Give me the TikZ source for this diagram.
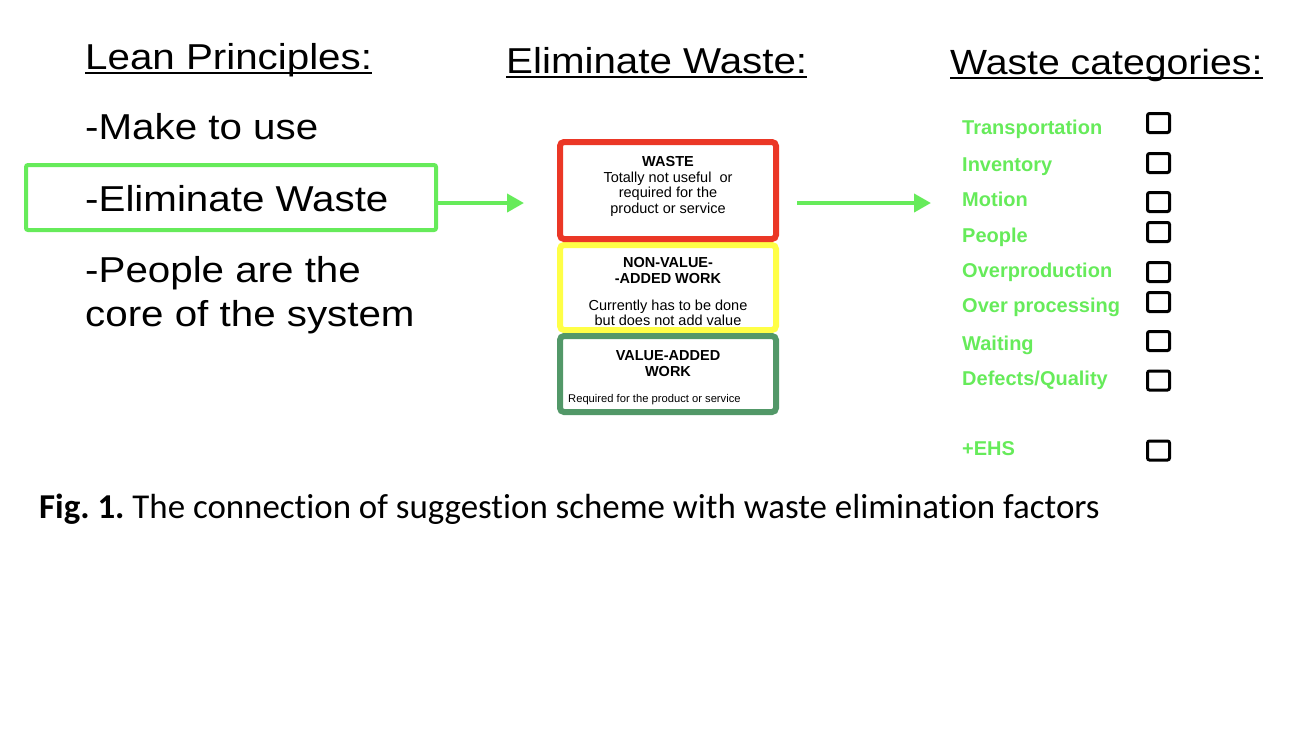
\documentclass[tikz,border=0pt]{standalone}
\usepackage{fontspec}
\setmainfont{Liberation Sans}
\newfontfamily\hfont[FakeStretch=1.12]{Liberation Sans}
\newfontfamily\capfont[Ligatures=NoCommon]{Carlito}
\usetikzlibrary{arrows.meta}
\definecolor{lgreen}{RGB}{102,235,90}
\definecolor{wred}{RGB}{235,55,38}
\definecolor{wyellow}{RGB}{255,255,70}
\definecolor{wgreen}{RGB}{82,152,104}
\frenchspacing
\tikzset{
  head/.style={font=\hfont\fontsize{36}{40}\selectfont, anchor=base west, inner sep=0pt},
  item/.style={font=\hfont\fontsize{36}{40}\selectfont, anchor=base west, inner sep=0pt},
  ul/.style={draw=black, line width=2pt},
  cat/.style={font=\bfseries\fontsize{20}{24}\selectfont, text=lgreen, anchor=base west, inner sep=0pt},
  chk/.style={draw=black, line width=3pt, rounded corners=2pt, minimum width=22pt, minimum height=19pt, inner sep=0pt},
  tier/.style={draw=#1, line width=6pt, rounded corners=4pt, minimum width=216pt, inner sep=0pt},
  btxt/.style={font=\fontsize{14.5}{16}\selectfont, anchor=base, inner sep=0pt},
  bhead/.style={font=\bfseries\fontsize{14.5}{16}\selectfont, anchor=base, inner sep=0pt},
  conn/.style={draw=lgreen, line width=4pt, -{Triangle[length=17pt,width=18pt]}},
  hibox/.style={draw=lgreen, line width=4pt, rounded corners=2pt, minimum width=410pt, minimum height=65pt, inner sep=0pt}
}
\begin{document}
\begin{tikzpicture}[x=1pt,y=-1pt]
\useasboundingbox (0,0) rectangle (1298,732);
% headings
\node[head] (hlp) at (85,69) {Lean Principles:};
\node[head] (hew) at (506,73) {Eliminate Waste:};
\node[head, font=\hfont\fontsize{35}{40}\selectfont] (hwc) at (950,74) {Waste categories:};
\foreach \n in {hlp,hew,hwc}{\draw[ul] ([yshift=-4pt]\n.base west) -- ([yshift=-4pt]\n.base east);}
% left list
\node[item] (l1) at (85,139) {-Make to use};
\node[hibox] (ewbox) at (231,197.5) {};
\node[item] (l2) at (85,211.5) {-Eliminate Waste};
\node[item] (l3) at (85,282) {-People are the};
\node[item] (l4) at (85,326) {core of the system};
% tiers
\node[tier=wyellow, minimum height=85pt] (ty) at (668,287.5) {};
\node[tier=wred, minimum height=97pt] (tr) at (668,190.5) {};
\node[tier=wgreen, minimum height=76pt] (tg) at (668,374) {};
\node[bhead] (r1) at (668,166) {WASTE};
\node[btxt] (r2) at (668,182) {Totally not useful\ \ or};
\node[btxt] (r3) at (668,197.5) {required for the};
\node[btxt] (r4) at (668,213) {product or service};
\node[bhead] (y1) at (668,267) {NON-VALUE-};
\node[bhead] (y2) at (668,283) {-ADDED WORK};
\node[btxt] (y3) at (668,310) {Currently has to be done};
\node[btxt] (y4) at (668,325.5) {but does not add value};
\node[bhead] (g1) at (668,360) {VALUE-ADDED};
\node[bhead] (g2) at (668,376) {WORK};
\node[font=\fontsize{11.2}{13}\selectfont, anchor=base west, inner sep=0pt] (g3) at (568,402) {Required for the product or service};
% arrows
\coordinate (a1e) at (524,203);
\coordinate (a2s) at (797,203);
\coordinate (a2e) at (931,203);
\draw[conn] (ewbox.east |- a1e) -- (a1e);
\draw[conn] (a2s) -- (a2e);
% categories
\node[cat] (c1) at (962,134) {Transportation};
\node[cat] (c2) at (962,171) {Inventory};
\node[cat] (c3) at (962,206) {Motion};
\node[cat] (c4) at (962,242) {People};
\node[cat] (c5) at (962,277) {Overproduction};
\node[cat] (c6) at (962,312) {Over processing};
\node[cat] (c7) at (962,350) {Waiting};
\node[cat] (c8) at (962,385) {Defects/Quality};
\node[cat] (c9) at (962,455) {+EHS};
\node[chk] (k1) at (1158.5,123) {};
\node[chk] (k2) at (1158.5,163) {};
\node[chk] (k3) at (1158.5,202) {};
\node[chk] (k4) at (1158.5,232) {};
\node[chk] (k5) at (1158.5,272) {};
\node[chk] (k6) at (1158.5,302) {};
\node[chk] (k7) at (1158.5,341) {};
\node[chk] (k8) at (1158.5,380.5) {};
\node[chk] (k9) at (1158.5,450.5) {};
% caption
\node[font=\capfont\fontsize{34.9}{40}\selectfont, anchor=base west, inner sep=0pt] (cap) at (39,518) {\textbf{Fig. 1.} The connection of suggestion scheme with waste elimination factors};
\end{tikzpicture}
\end{document}
